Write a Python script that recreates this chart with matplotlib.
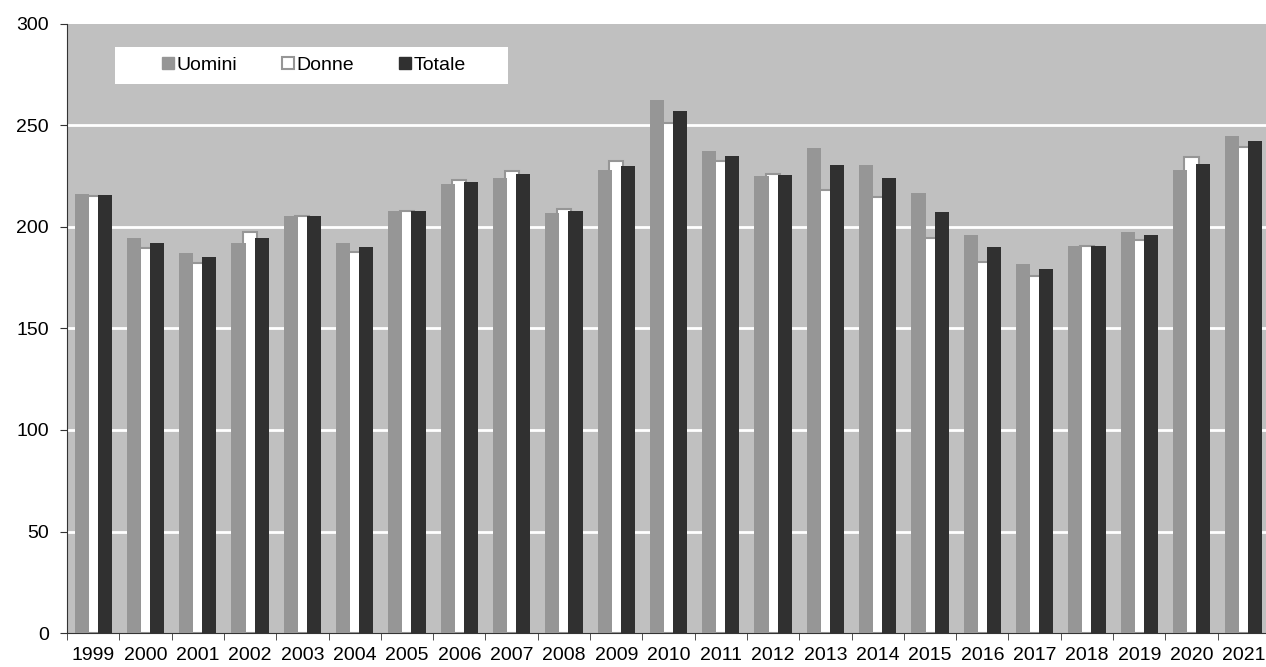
import numpy as np
import matplotlib.pyplot as plt
from matplotlib.patches import Patch, Rectangle

plt.rcParams["font.family"] = ["Liberation Sans", "DejaVu Sans"]

years = [str(y) for y in range(1999, 2022)]
uomini = [216.5, 194.4, 187.2, 192.1, 205.4, 192.1, 208.0, 221.2, 224.1, 207.1, 228.0, 262.6,
          237.2, 225.1, 239.0, 230.5, 216.9, 195.9, 182.0, 190.8, 197.4, 228.0, 244.8]
donne = [215.3, 189.5, 182.4, 197.4, 205.2, 187.9, 207.8, 223.0, 227.7, 209.0, 232.6, 251.0,
         232.3, 225.9, 218.4, 214.6, 194.4, 182.6, 175.9, 190.4, 193.8, 234.6, 239.4]
totale = [215.9, 192.1, 185.1, 194.6, 205.6, 190.2, 208.0, 222.0, 225.9, 208.0, 230.0, 257.2,
          234.9, 225.4, 230.3, 224.1, 207.5, 190.3, 179.5, 190.8, 195.9, 230.8, 242.5]
yticks = [0, 50, 100, 150, 200, 250, 300]

x = np.arange(len(years))
w = 0.27
off = 0.221

fig = plt.figure(figsize=(12.66, 6.67), dpi=100)
ax = fig.add_axes([67 / 1266, 34 / 667, 1203 / 1266, 609 / 667])
ax.set_facecolor("#c0c0c0")

for v in yticks[1:-1]:
    ax.axhline(v, color="white", lw=2, zorder=1)

ax.bar(x, donne, w, color="white", edgecolor="#969696", lw=1.5, zorder=2)
ax.bar(x - off, uomini, w, color="#969696", lw=0, zorder=3)
ax.bar(x + off, totale, w, color="#303030", lw=0, zorder=3)

ax.set_xlim(-0.5, len(years) - 0.5)
ax.set_ylim(0, 300)
ax.set_yticks(yticks)
ax.set_xticks(x, labels=years)
ax.set_xticks(np.arange(len(years) + 1) - 0.5, minor=True)
ax.tick_params(axis="x", which="major", length=0, pad=10, labelsize=14)
ax.tick_params(axis="x", which="minor", length=5, color="#333333")
ax.tick_params(axis="y", length=5, color="#333333", labelsize=14, pad=8)
for s in ["top", "right"]:
    ax.spines[s].set_visible(False)
for s in ["left", "bottom"]:
    ax.spines[s].set_color("#333333")

ax.add_patch(Rectangle((0.0399, 0.9015), 0.3267, 0.0612, transform=ax.transAxes,
                       facecolor="white", edgecolor="none", zorder=4))
handles = [Patch(facecolor="#969696", edgecolor="#969696"),
           Patch(facecolor="white", edgecolor="#969696", lw=1.5),
           Patch(facecolor="#303030", edgecolor="#303030")]
leg = ax.legend(handles, ["Uomini", "Donne", "Totale"], ncol=3, loc="center",
                bbox_to_anchor=(0.2053, 0.932), frameon=False, fontsize=14,
                handlelength=0.6, handleheight=0.6, handletextpad=0.15,
                columnspacing=2.3)
leg.set_zorder(5)

fig.savefig("out.png", dpi=100)
